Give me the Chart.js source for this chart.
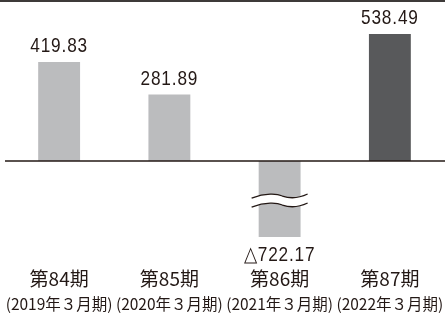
<!DOCTYPE html>
<html>
<head>
<meta charset="utf-8">
<script src="https://cdn.jsdelivr.net/npm/chart.js@4/dist/chart.umd.min.js"></script>
<style>
html,body{margin:0;padding:0;background:#fff;}
#wrap{width:445px;height:321px;position:relative;}
</style>
</head>
<body>
<div id="wrap"><canvas id="c" width="445" height="321"></canvas></div>
<script>
const periods = ['第84期', '第85期', '第86期', '第87期'];
const fiscalYears = ['(2019年３月期)', '(2020年３月期)', '(2021年３月期)', '(2022年３月期)'];
const values = [419.83, 281.89, -722.17, 538.49];
const barColors = ['#bbbcbe', '#bbbcbe', '#bbbcbe', '#58595b'];
const brokenIndex = 2;

const TEXT = '#231815';

const decoPlugin = {
  id: 'deco',
  afterDatasetsDraw(chart) {
    const ctx = chart.ctx;
    const ca = chart.chartArea;
    const y0 = chart.scales.y.getPixelForValue(0);
    ctx.save();
    // top rule
    ctx.fillStyle = '#3e3a39';
    ctx.fillRect(0, 0, chart.width, 2);
    // baseline
    ctx.strokeStyle = '#231815';
    ctx.lineWidth = 1.5;
    ctx.beginPath();
    ctx.moveTo(5, y0);
    ctx.lineTo(chart.width, y0);
    ctx.stroke();

    const meta = chart.getDatasetMeta(0);
    // break marks on the truncated bar
    const bb = meta.data[brokenIndex];
    if (bb) {
      const xl = bb.x - 28, xr = bb.x + 28;
      const ya = y0 + 35, yb = y0 + 44;
      const w = xr - xl;
      const wave = (yc) => {
        ctx.moveTo(xl, yc + 2);
        ctx.bezierCurveTo(xl + w * 0.25, yc - 3, xl + w * 0.45, yc - 2.5, xl + w * 0.55, yc);
        ctx.bezierCurveTo(xl + w * 0.7, yc + 3, xl + w * 0.85, yc + 2, xr, yc - 2);
      };
      ctx.fillStyle = '#ffffff';
      ctx.beginPath();
      wave(ya);
      ctx.lineTo(xr, yb - 2);
      ctx.bezierCurveTo(xl + w * 0.85, yb + 2, xl + w * 0.7, yb + 3, xl + w * 0.55, yb);
      ctx.bezierCurveTo(xl + w * 0.45, yb - 2.5, xl + w * 0.25, yb - 3, xl, yb + 2);
      ctx.closePath();
      ctx.fill();
      ctx.strokeStyle = '#231815';
      ctx.lineWidth = 1.3;
      ctx.beginPath();
      wave(ya);
      ctx.stroke();
      ctx.beginPath();
      wave(yb);
      ctx.stroke();
    }

    // value labels (slightly condensed)
    const sx = 0.82;
    ctx.fillStyle = TEXT;
    ctx.font = '21px "Liberation Sans", Arial, sans-serif';
    ctx.textAlign = 'center';
    ctx.textBaseline = 'alphabetic';
    if ('letterSpacing' in ctx) ctx.letterSpacing = '1px';
    meta.data.forEach((bar, i) => {
      const v = values[i];
      const txt = v >= 0 ? v.toFixed(2) : '△' + Math.abs(v).toFixed(2);
      const ty = v >= 0 ? bar.y - 10 : ca.bottom + 24;
      ctx.save();
      ctx.translate(bar.x, ty);
      ctx.scale(sx, 1);
      ctx.fillText(txt, 0, 0);
      ctx.restore();
    });
    ctx.restore();
  }
};

new Chart(document.getElementById('c'), {
  type: 'bar',
  data: {
    labels: periods,
    datasets: [{
      data: values,
      backgroundColor: barColors,
      borderWidth: 0,
      barPercentage: 0.38,
      categoryPercentage: 1
    }]
  },
  options: {
    responsive: false,
    animation: false,
    layout: { autoPadding: false, padding: { top: 2, left: 4, right: 0, bottom: 0 } },
    plugins: { legend: { display: false }, tooltip: { enabled: false } },
    scales: {
      x: {
        position: 'bottom',
        grid: { display: false, drawTicks: false },
        border: { display: false },
        ticks: {
          color: TEXT,
          font: { family: '"Noto Sans CJK JP", sans-serif', size: 19, lineHeight: 1.2 },
          padding: 30,
          maxRotation: 0,
          minRotation: 0,
          autoSkip: false
        },
        afterFit(scale) { scale.height = 55; scale.paddingLeft = 0; scale.paddingRight = 0; }
      },
      x2: {
        type: 'category',
        labels: fiscalYears,
        position: 'bottom',
        grid: { display: false, drawTicks: false },
        border: { display: false },
        ticks: {
          color: TEXT,
          font: { family: '"Noto Sans CJK JP", sans-serif', size: 15.5, lineHeight: 1.2 },
          padding: 3,
          maxRotation: 0,
          minRotation: 0,
          autoSkip: false
        },
        afterFit(scale) { scale.height = 29; scale.paddingLeft = 0; scale.paddingRight = 0; }
      },
      y: {
        display: false,
        min: -322,
        max: 674
      }
    }
  },
  plugins: [decoPlugin]
});
</script>
</body>
</html>
